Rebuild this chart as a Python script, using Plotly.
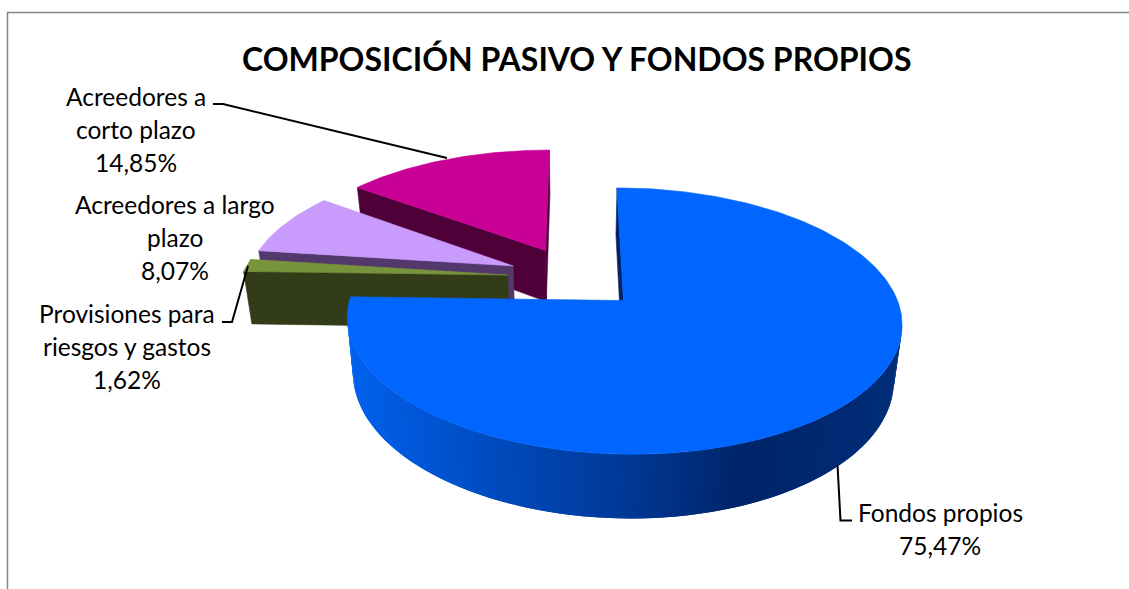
import numpy as np
import plotly.graph_objects as go

# ---- data ----
categories = ["Fondos propios", "Provisiones para riesgos y gastos",
              "Acreedores a largo plazo", "Acreedores a corto plazo"]
values = [75.47, 1.62, 8.07, 14.85]
value_labels = ["75,47%", "1,62%", "8,07%", "14,85%"]
label_lines = [["Fondos propios"], ["Provisiones para", "riesgos y gastos"],
               ["Acreedores a largo", "plazo"], ["Acreedores a", "corto plazo"]]
label_centres = [(940, 512), (127, 313), (175, 204), (136, 96)]
top_colours = ["#0066ff", "#77933c", "#c89bfc", "#c80096"]
wall_colours = ["#00246a", "#323c19", "#53386b", "#4f0039"]
title = "COMPOSICIÓN PASIVO Y FONDOS PROPIOS"

# ---- projection of the exploded, tilted pie ----
CX, CY, A, B, K = 575.0, 277.5, 266.5, 123.0, 0.15
EXPLODE, DEPTH, SHRINK = 0.254, 52.8, 0.025


def project(u, v, low=False):
    w = 1 + K * v
    x = A * u / w
    y = B * v / w
    if low:
        return CX + x * (1 - SHRINK), CY - y + DEPTH / w
    return CX + x, CY - y


def blue_wall_colour(x):
    xs = [350, 500, 620, 740, 893]
    rgb = np.array([[0, 98, 238], [0, 74, 188], [0, 58, 152], [0, 36, 106], [0, 46, 120]])
    return "rgb(%d,%d,%d)" % tuple(np.interp(x, xs, rgb[:, i]) for i in range(3))


def poly(xs, ys, colour, width=0.6):
    return go.Scatter(x=list(xs), y=list(ys), mode="lines", fill="toself", fillcolor=colour,
                      line=dict(color=colour, width=width), hoverinfo="skip", showlegend=False)


total = sum(values)
edges = np.concatenate([[0], np.cumsum(values)]) / total * 2 * np.pi
camera = np.array([0.0, -1 / K])
slices = []
for i in range(len(values)):
    t0, t1 = edges[i], edges[i + 1]
    mid = (t0 + t1) / 2
    apex = EXPLODE * np.array([np.sin(mid), np.cos(mid)])
    th = np.linspace(t0, t1, max(int(np.degrees(t1 - t0)) + 2, 4))
    step = th[1] - th[0]
    traces = []

    def rim(t):
        return apex + np.array([np.sin(t), np.cos(t)])

    # radial faces
    for t, sign in ((t0, -1), (t1, 1)):
        normal = sign * np.array([np.cos(t), -np.sin(t)])
        if np.dot(camera - apex, normal) > 0:
            p = rim(t)
            a_top = project(*apex)
            p_top = project(*p)
            p_low = project(*p, low=True)
            a_low = project(*apex, low=True)
            traces.append(poly([a_top[0], p_top[0], p_low[0], a_low[0], a_top[0]],
                               [a_top[1], p_top[1], p_low[1], a_low[1], a_top[1]], wall_colours[i]))
    # outer wall strips: each one overlaps the next so that no seams show
    for a, b in zip(th[:-1], th[1:]):
        m = (a + b) / 2
        n = np.array([np.sin(m), np.cos(m)])
        if np.dot(camera - rim(m), n) > 0:
            pa, pb = rim(a), rim(b + step)
            q = [project(*pa), project(*pb), project(*pb, low=True), project(*pa, low=True)]
            xs = [c[0] for c in q] + [q[0][0]]
            ys = [c[1] for c in q] + [q[0][1]]
            colour = blue_wall_colour(np.mean(xs)) if i == 0 else wall_colours[i]
            traces.append(poly(xs, ys, colour, width=0))
    # top face
    ring = np.array([rim(t) for t in th])
    xt, yt = project(ring[:, 0], ring[:, 1])
    ax, ay = project(*apex)
    traces.append(poly([ax, *xt, ax], [ay, *yt, ay], top_colours[i]))
    slices.append(traces)

fig = go.Figure()
for i in [3, 2, 1, 0]:  # back to front
    fig.add_traces(slices[i])

# ---- labels ----
FONT = "Lato, Carlito, Calibri, sans-serif"
LINE = 33
for lines, val, (cx, cy) in zip(label_lines, value_labels, label_centres):
    for n, txt in enumerate(lines + [val]):
        fig.add_annotation(x=cx, y=cy + n * LINE, text=txt, showarrow=False, xref="x", yref="y",
                           xanchor="center", yanchor="middle",
                           font=dict(family=FONT, size=24.5, color="#000000"))
fig.add_annotation(x=576, y=58, text="<b>" + title + "</b>", showarrow=False, xref="x", yref="y",
                   xanchor="center", yanchor="middle", font=dict(family=FONT, size=32, color="#000000"))

# ---- leader lines and chart frame ----
leaders = ["M213,104 L223,104 L447,158", "M222,322 L232,322 L248,266", "M837.5,465 L840.5,520.5 L852,520.5"]
shapes = [dict(type="path", path=p, xref="x", yref="y", line=dict(color="#000000", width=2)) for p in leaders]
shapes.append(dict(type="path", path="M7.5,589 L7.5,12.5 L1129,12.5", xref="x", yref="y",
                   line=dict(color="#868686", width=1.5)))

fig.update_layout(width=1129, height=589, margin=dict(l=0, r=0, t=0, b=0), autosize=False,
                  paper_bgcolor="white", plot_bgcolor="white", shapes=shapes, showlegend=False,
                  xaxis=dict(range=[0, 1129], visible=False, fixedrange=True),
                  yaxis=dict(range=[589, 0], visible=False, fixedrange=True))
fig.write_html("out.html", config=dict(displayModeBar=False),
               post_script="document.body.style.margin='0';document.body.style.overflow='hidden';")
